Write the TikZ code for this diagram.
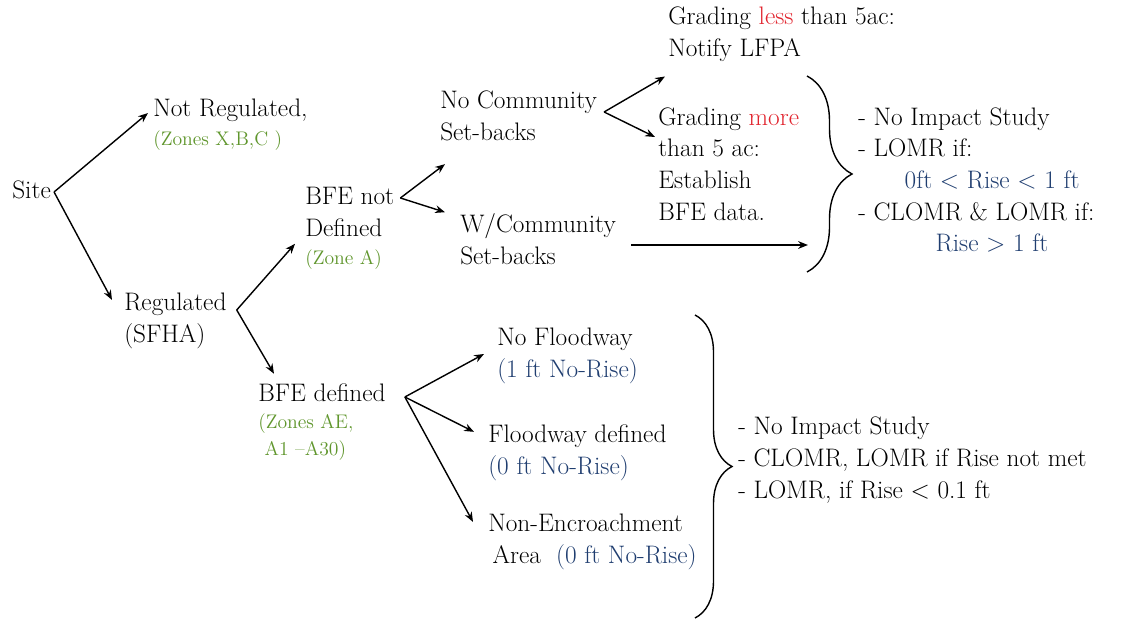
\documentclass[tikz,border=0pt]{standalone}
\usepackage{xcolor}
\usetikzlibrary{positioning,calc,arrows.meta,decorations.pathreplacing}

\definecolor{zonegreen}{RGB}{96,150,45}
\definecolor{riseblue}{RGB}{32,62,112}
\definecolor{gradred}{RGB}{225,35,45}

\begin{document}
\begin{tikzpicture}[x=0.025cm, y=-0.025cm,
		txt/.style={anchor=west, inner sep=0pt, align=left, font=\fontsize{18}{22.5}\selectfont},
		zone/.style={inner sep=0pt, align=left, text=zonegreen, font=\fontsize{14}{19}\selectfont},
		arr/.style={line width=1pt, -{Stealth[length=7pt, width=5.5pt]}},
		brc/.style={line width=1pt, decorate, decoration={brace, amplitude=#1}}]
			\useasboundingbox (0,0) rectangle (1121,622);

			\node[txt] (1) at (12,190) {Site};
			\node[txt] (2) at (153,110) {Not Regulated,};
			\node[zone] (2a)[below right=6pt and 0pt of 2.south west] {(Zones X,B,C )};
			\node[txt] (3) at (124,321) {Regulated\\(SFHA)};
			\node[txt] (4) at (305,212) {BFE not\\Defined};
			\node[zone] (4a)[below right=9pt and 0pt of 4.south west] {(Zone A)};
			\node[txt] (5) at (258,393) {BFE defined};
			\node[zone] (5a)[below right=8pt and 0pt of 5.south west] {(Zones AE,\\\ A1 --A30)};

			\node[txt] (6) at (440,116) {No Community\\Set-backs};
			\node[txt] (7) at (460,239) {W/Community\\Set-backs};
			\node[txt] (8) at (668,34) {Grading \textcolor{gradred}{less} than 5ac:\\Notify LFPA};
			\node[txt] (9) at (658,164) {Grading \textcolor{gradred}{more}\\than 5 ac:\\Establish\\BFE data.};
			\node[txt] (10) at (858,180) {- No Impact Study\\- LOMR if:\\\hspace*{33pt}\textcolor{riseblue}{0ft \textless{} Rise \textless{} 1 ft}\\- CLOMR \& LOMR if:\\\hspace*{55pt}\textcolor{riseblue}{Rise \textgreater{} 1 ft}};

			\node[txt] (11) at (497,356) {No Floodway\\\textcolor{riseblue}{(1 ft No-Rise)}};
			\node[txt] (12) at (488,453) {Floodway defined\\\textcolor{riseblue}{(0 ft No-Rise)}};
			\node[txt] (13) at (488,542) {Non-Encroachment\\\hspace*{3pt}Area\ \ \textcolor{riseblue}{(0 ft No-Rise)}};
			\node[txt] (14) at (738,460) {- No Impact Study\\- CLOMR, LOMR if Rise not met\\- LOMR, if Rise \textless{} 0.1 ft};

			\coordinate (7b) at (808,245);

			% braces
			\draw[brc=1.125cm] (807,76) -- (807,272);
			\draw[brc=0.925cm] (695,315) -- (695,618);

			\path[arr]
				($(1.east)+(3,2)$) edge ($(2.west)+(-5,3)$)
				($(1.east)+(3,2)$) edge ($(3.north west)+(-12,7)$)
				($(3.east)+(10,-11)$) edge ($(4.south west)+(-10,7)$)
				($(3.east)+(10,-11)$) edge ($(5.north west)+(16,-10)$)
				($(4.east)+(6,-14)$) edge ($(6.south west)+(5,23)$)
				($(4.east)+(6,-14)$) edge ($(7.north west)+(-15,-1)$)
				($(6.east)+(7,-4)$) edge ($(8.south west)+(-3,15)$)
				($(6.east)+(7,-4)$) edge ($(9.west)+(-3,-27)$)
				($(7.east)+(15,6)$) edge (7b)
				($(5.east)+(19,4)$) edge ($(11.west)+(-13,-2)$)
				($(5.east)+(19,4)$) edge ($(12.north west)+(-14,7)$)
				($(5.east)+(19,4)$) edge ($(13.north west)+(-15,8)$)
			;
		\end{tikzpicture}
\end{document}
